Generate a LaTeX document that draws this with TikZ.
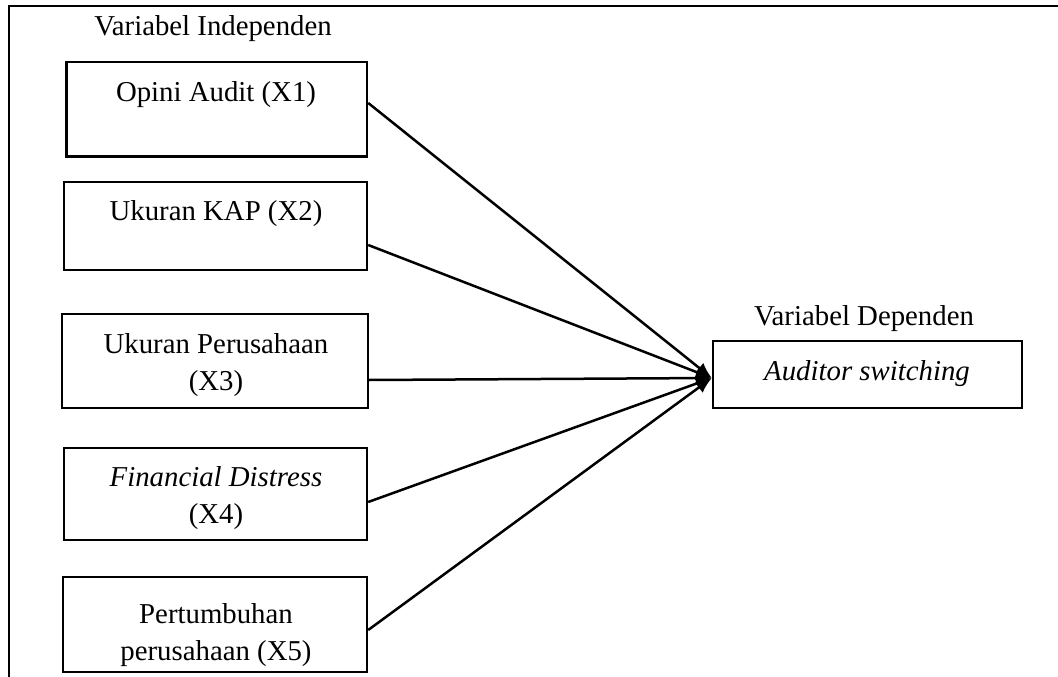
\documentclass[tikz,border=0pt]{standalone}
\usepackage{fontspec}
\setmainfont{Liberation Serif}
\usetikzlibrary{arrows.meta,calc}
\tikzset{
  box/.style={draw,line width=2.4pt,rectangle,inner sep=0pt},
  txt/.style={inner sep=0pt,align=center,font=\fontsize{28.8}{37}\selectfont},
  link/.style={line width=2.5pt,-{Latex[length=16pt,width=13pt]}},
}
\begin{document}
\begin{tikzpicture}[x=1pt,y=-1pt]
\useasboundingbox (0,0) rectangle (1058,677);
% frame
\draw[line width=2.4pt] (9,677) -- (9,6) -- (1058,6);
% title
\node[txt] (ti) at (213,29) {Variabel Independen};
% independent boxes
\node[box,minimum width=300.5pt,minimum height=94.5pt] (x1) at (216.75,109.25) {};
\node[txt] (t1) at (216,95) {Opini Audit (X1)};
\node[box,minimum width=303pt,minimum height=88pt] (x2) at (215.5,226) {};
\node[txt] (t2) at (216,214) {Ukuran KAP (X2)};
\node[box,minimum width=306pt,minimum height=94pt] (x3) at (215,361) {};
\node[txt] (t3) at (216,365.5) {Ukuran Perusahaan\\(X3)};
\node[box,minimum width=303pt,minimum height=92pt] (x4) at (215.5,494) {};
\node[txt] (t4) at (216,498) {\textit{Financial Distress}\\(X4)};
\node[box,minimum width=304pt,minimum height=95pt] (x5) at (215,624.5) {};
\node[txt] (t5) at (216,635.5) {Pertumbuhan\\perusahaan (X5)};
% dependent
\node[txt] (td) at (864,319) {Variabel Dependen};
\node[box,minimum width=309pt,minimum height=67pt] (dep) at (867.5,374.5) {};
\node[txt] (tdep) at (867,374) {\textit{Auditor switching}};
\coordinate (tip) at ([yshift=-3.5pt]dep.west);
% arrows
\draw[link] ([yshift=6.25pt]x1.east) -- (tip);
\draw[link] ([yshift=-19pt]x2.east) -- (tip);
\draw[link] ([yshift=-19pt]x3.east) -- (tip);
\draw[link] ([yshift=-8pt]x4.east) -- (tip);
\draw[link] ([yshift=-5.5pt]x5.east) -- (tip);
\end{tikzpicture}
\end{document}
